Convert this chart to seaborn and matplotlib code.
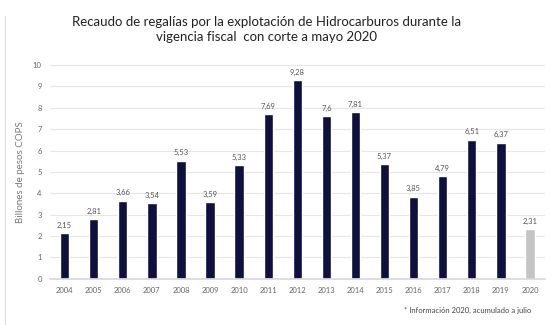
import matplotlib
matplotlib.use("Agg")
import matplotlib.pyplot as plt
import seaborn as sns
import pandas as pd

years = ["2004", "2005", "2006", "2007", "2008", "2009", "2010", "2011", "2012",
         "2013", "2014", "2015", "2016", "2017", "2018", "2019", "2020"]
values = [2.15, 2.81, 3.66, 3.54, 5.53, 3.59, 5.33, 7.69, 9.28,
          7.6, 7.81, 5.37, 3.85, 4.79, 6.51, 6.37, 2.31]
labels = ["2,15", "2,81", "3,66", "3,54", "5,53", "3,59", "5,33", "7,69", "9,28",
          "7,6", "7,81", "5,37", "3,85", "4,79", "6,51", "6,37", "2,31"]
yticks = [0, 1, 2, 3, 4, 5, 6, 7, 8, 9, 10]

df = pd.DataFrame({"year": years, "value": values})

sns.set_theme(style="white")
plt.rcParams["font.family"] = ["Lato", "DejaVu Sans"]

navy = "#0e1040"
gray = "#c4c4c4"
palette = {y: (gray if y == "2020" else navy) for y in years}

fig = plt.figure(figsize=(5.5, 3.25), dpi=100)
ax = fig.add_axes([0.091, 0.142, 0.899, 0.658])

sns.barplot(data=df, x="year", y="value", hue="year", palette=palette,
            legend=False, width=0.32, ax=ax, saturation=1)

ax.set_ylim(0, 10)
ax.set_yticks(yticks)
ax.set_yticklabels([str(t) for t in yticks])
ax.yaxis.grid(True, color="#e6e6e6", linewidth=0.8)
ax.set_axisbelow(True)
for s in ["top", "right", "left"]:
    ax.spines[s].set_visible(False)
ax.spines["bottom"].set_color("#d9d9d9")
ax.tick_params(axis="both", labelsize=5.5, colors="#666666", length=0, pad=6)
ax.set_xlabel("")
ax.set_ylabel("Billones de pesos COPS", fontsize=7, color="#777777", labelpad=6)

for i, (v, lab) in enumerate(zip(values, labels)):
    ax.annotate(lab, (i, v), xytext=(0, 3), textcoords="offset points",
                ha="center", va="bottom", fontsize=5.5, color="#555555")

fig.text(0.485, 0.95, "Recaudo de regalías por la explotación de Hidrocarburos durante la\nvigencia fiscal  con corte a mayo 2020",
         ha="center", va="top", fontsize=9.5, color="#222222", linespacing=1.25)
fig.text(0.965, 0.045, "* Información 2020, acumulado a julio", ha="right", va="center",
         fontsize=5.5, color="#444444")

# light frame like the original screenshot
fig.add_artist(plt.Line2D([0.009, 0.009], [0.0, 0.95], color="#dddddd", linewidth=0.8))

fig.savefig("out.png", dpi=100)
